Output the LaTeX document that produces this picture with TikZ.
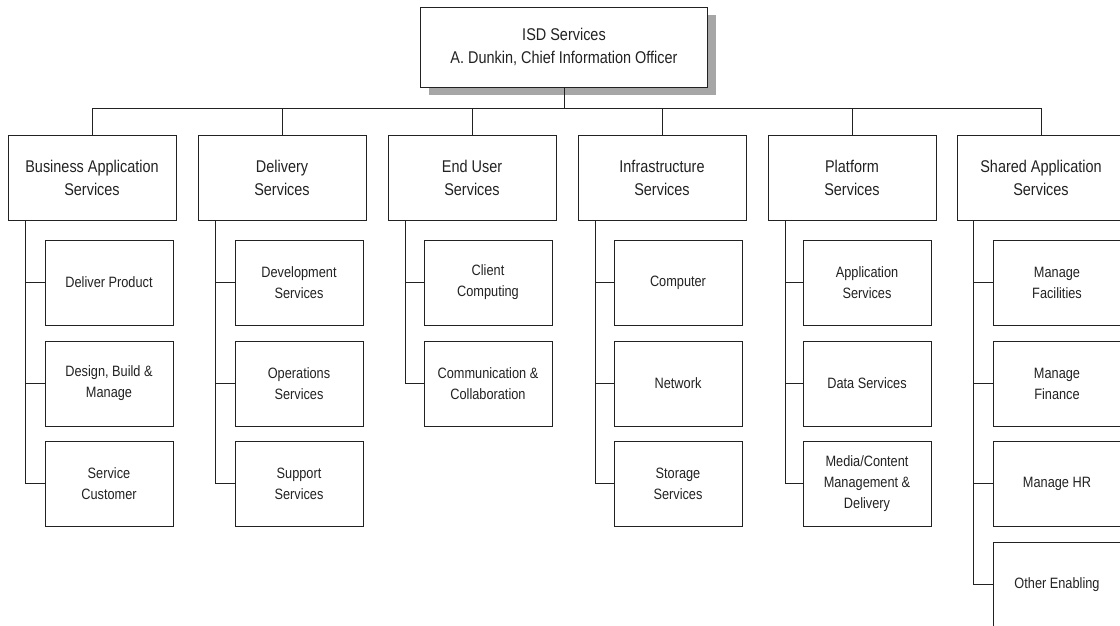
\documentclass[tikz,border=0pt]{standalone}
\usepackage{fontspec}
\setmainfont{Liberation Sans}[FakeStretch=0.85]
\usepackage{tikz}
\usetikzlibrary{positioning,shadows}

\definecolor{linie}{HTML}{222222}
\definecolor{schatten}{HTML}{A6A6A6}

\begin{document}
\begin{tikzpicture}[x=1pt, y=-1pt, line width=0.9pt,
    chef/.style={draw=linie, fill=white, minimum width=287pt, minimum height=80pt, align=center,
        font=\fontsize{17}{23}\selectfont, text=linie,
        drop shadow={shadow xshift=8pt, shadow yshift=-8pt, fill=schatten, opacity=1}},
    abteilung/.style={draw=linie, minimum width=168pt, minimum height=85pt, align=center,
        font=\fontsize{17}{23}\selectfont, text=linie},
    dienst/.style={draw=linie, minimum width=128pt, minimum height=85pt, align=center,
        font=\fontsize{15}{21}\selectfont, text=linie},
    ast/.style={draw=linie}]

    \useasboundingbox (0,0) rectangle (1120,626);

    % Leitung
    \node (isd) at (564,47) [chef] {ISD Services\\A. Dunkin, Chief Information Officer};

    % Abteilungen
    \node (bas) at (92,177.5) [abteilung] {Business Application\\Services};
    \node (del) at (282,177.5) [abteilung] {Delivery\\Services};
    \node (eus) at (472,177.5) [abteilung] {End User\\Services};
    \node (inf) at (662,177.5) [abteilung] {Infrastructure\\Services};
    \node (pla) at (852,177.5) [abteilung] {Platform\\Services};
    \node (sha) at (1041,177.5) [abteilung] {Shared Application\\Services};

    % Verbindungen Leitung -> Abteilungen
    \draw[ast] (isd.south) -- ++(0,21) -| (bas.north);
    \draw[ast] (isd.south) -- ++(0,21) -| (del.north);
    \draw[ast] (isd.south) -- ++(0,21) -| (eus.north);
    \draw[ast] (isd.south) -- ++(0,21) -| (inf.north);
    \draw[ast] (isd.south) -- ++(0,21) -| (pla.north);
    \draw[ast] (isd.south) -- ++(0,21) -| (sha.north);

    % Business Application Services
    \node (bas1) at (109,282.5) [dienst] {Deliver Product};
    \node (bas2) at (109,383.5) [dienst] {Design, Build \&\\Manage};
    \node (bas3) at (109,483.5) [dienst] {Service\\Customer};
    \draw[ast] ([xshift=18pt]bas.south west) |- (bas1.west);
    \draw[ast] ([xshift=18pt]bas.south west) |- (bas2.west);
    \draw[ast] ([xshift=18pt]bas.south west) |- (bas3.west);

    % Delivery Services
    \node (del1) at (299,282.5) [dienst] {Development\\Services};
    \node (del2) at (299,383.5) [dienst] {Operations\\Services};
    \node (del3) at (299,483.5) [dienst] {Support\\Services};
    \draw[ast] ([xshift=18pt]del.south west) |- (del1.west);
    \draw[ast] ([xshift=18pt]del.south west) |- (del2.west);
    \draw[ast] ([xshift=18pt]del.south west) |- (del3.west);

    % End User Services
    \node (eus1) at (488,282.5) [dienst] {Client\\Computing};
    \node (eus2) at (488,383.5) [dienst] {Communication \&\\Collaboration};
    \draw[ast] ([xshift=18pt]eus.south west) |- (eus1.west);
    \draw[ast] ([xshift=18pt]eus.south west) |- (eus2.west);

    % Infrastructure Services
    \node (inf1) at (678,282.5) [dienst] {Computer};
    \node (inf2) at (678,383.5) [dienst] {Network};
    \node (inf3) at (678,483.5) [dienst] {Storage\\Services};
    \draw[ast] ([xshift=18pt]inf.south west) |- (inf1.west);
    \draw[ast] ([xshift=18pt]inf.south west) |- (inf2.west);
    \draw[ast] ([xshift=18pt]inf.south west) |- (inf3.west);

    % Platform Services
    \node (pla1) at (867,282.5) [dienst] {Application\\Services};
    \node (pla2) at (867,383.5) [dienst] {Data Services};
    \node (pla3) at (867,483.5) [dienst] {Media/Content\\Management \&\\Delivery};
    \draw[ast] ([xshift=18pt]pla.south west) |- (pla1.west);
    \draw[ast] ([xshift=18pt]pla.south west) |- (pla2.west);
    \draw[ast] ([xshift=18pt]pla.south west) |- (pla3.west);

    % Shared Application Services
    \node (sha1) at (1057,282.5) [dienst] {Manage\\Facilities};
    \node (sha2) at (1057,383.5) [dienst] {Manage\\Finance};
    \node (sha3) at (1057,483.5) [dienst] {Manage HR};
    \node (sha4) at (1057,584.5) [dienst] {Other Enabling};
    \draw[ast] ([xshift=17pt]sha.south west) |- (sha1.west);
    \draw[ast] ([xshift=17pt]sha.south west) |- (sha2.west);
    \draw[ast] ([xshift=17pt]sha.south west) |- (sha3.west);
    \draw[ast] ([xshift=17pt]sha.south west) |- (sha4.west);

\end{tikzpicture}
\end{document}
